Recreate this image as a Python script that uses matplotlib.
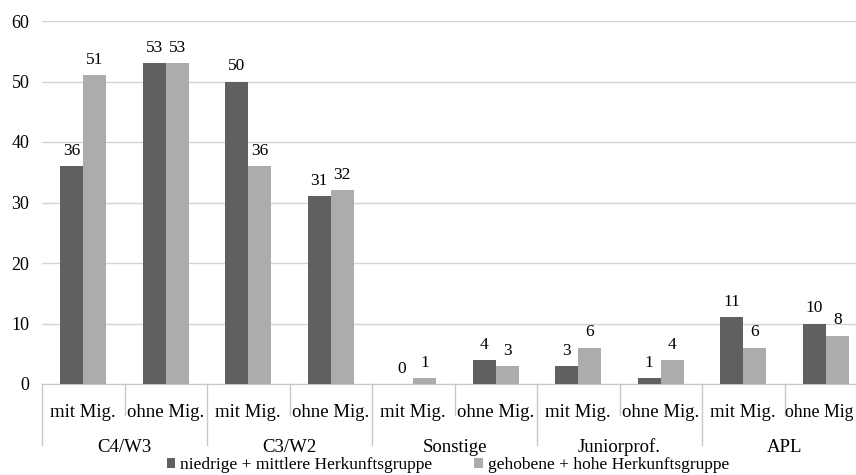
import matplotlib.pyplot as plt
import numpy as np

plt.rcParams['font.family'] = ['Liberation Serif', 'DejaVu Serif']

groups = ['C4/W3', 'C3/W2', 'Sonstige', 'Juniorprof.', 'APL']
subs = ['mit Mig.', 'ohne Mig.']
sub_last = ['mit Mig.', 'ohne Mig']
low_mid = [36, 53, 50, 31, 0, 4, 3, 1, 11, 10]
high = [51, 53, 36, 32, 1, 3, 6, 4, 6, 8]
series_names = ['niedrige + mittlere Herkunftsgruppe', 'gehobene + hohe Herkunftsgruppe']
dark = '#606060'
light = '#acacac'

fig = plt.figure(figsize=(8.56, 4.75), dpi=100)
ax = fig.add_axes([42 / 856, 91 / 475, 825 / 856, 363 / 475])

x = np.arange(len(low_mid))
w = 0.28
b1 = ax.bar(x - w / 2, low_mid, w, color=dark, label=series_names[0], zorder=3)
b2 = ax.bar(x + w / 2, high, w, color=light, label=series_names[1], zorder=3)
for bars in (b1, b2):
    for r in bars:
        ax.text(r.get_x() + r.get_width() / 2, r.get_height() + 1.2, f'{int(r.get_height())}',
                ha='center', va='bottom', fontsize=12.5)

ax.set_xlim(-0.5, len(low_mid) - 0.5)
ax.set_ylim(0, 60)
ax.set_yticks(range(0, 61, 10))
ax.tick_params(axis='y', length=0, labelsize=13, pad=9)
ax.set_xticks([])
ax.grid(axis='y', color='#d4d4d4', lw=1, zorder=0)
for s in ['top', 'right', 'left']:
    ax.spines[s].set_visible(False)
ax.spines['bottom'].set_color('#c8c8c8')

tr = ax.get_xaxis_transform()
for i in range(len(low_mid)):
    g = i // 2
    if g == len(groups) - 1 and i % 2 == 1:
        # last label is cut at the image edge in the original, keep it inside
        ax.text(i - 0.075, -0.078, sub_last[1], transform=tr, ha='center', va='center',
                fontsize=12.8, clip_on=False)
    else:
        ax.text(i, -0.078, subs[i % 2], transform=tr, ha='center', va='center',
                fontsize=13.5, clip_on=False)
for g, name in enumerate(groups):
    ax.text(2 * g + 0.5, -0.175, name, transform=tr, ha='center', va='center', fontsize=13.5, clip_on=False)
for k in range(len(low_mid) + 1):
    pos = k - 0.5
    y1 = -0.168 if k % 2 == 0 else -0.085
    ax.plot([pos, pos], [0, y1], transform=tr, color='#c8c8c8', lw=1, clip_on=False)

fig.legend(loc='center', bbox_to_anchor=(448 / 856, 10 / 475), ncol=2, frameon=False, fontsize=12.5,
           handlelength=0.5, handleheight=0.5, handletextpad=0.3, columnspacing=2.4)

fig.savefig('out.png', dpi=100)
